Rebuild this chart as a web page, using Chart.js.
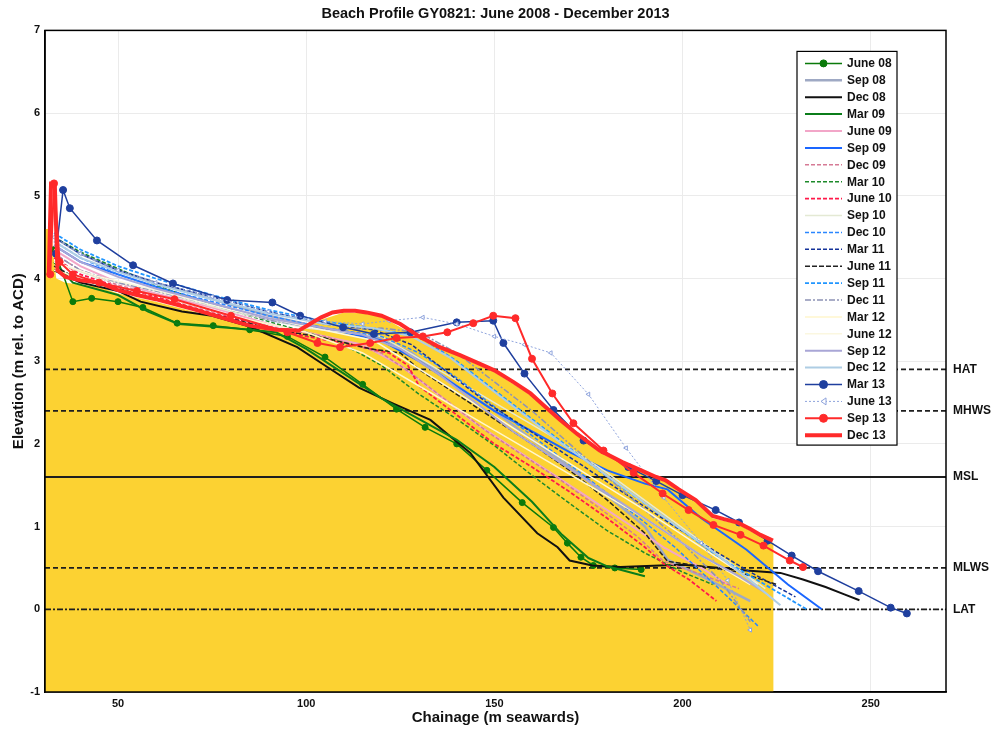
<!DOCTYPE html>
<html>
<head>
<meta charset="utf-8">
<script src="https://cdn.jsdelivr.net/npm/chart.js@4.4.0/dist/chart.umd.min.js"></script>
<style>
  body { margin: 0; background: #fff; }
</style>
</head>
<body>
<canvas id="profile" width="996" height="734"></canvas>
<script>
// ---- data ----
var seriesNames = ["June 08", "Sep 08", "Dec 08", "Mar 09", "June 09", "Sep 09", "Dec 09", "Mar 10",
  "June 10", "Sep 10", "Dec 10", "Mar 11", "June 11", "Sep 11", "Dec 11", "Mar 12", "June 12",
  "Sep 12", "Dec 12", "Mar 13", "June 13", "Sep 13", "Dec 13"];

var jun08X = [33, 38, 43, 50, 56.6, 65.7, 75.3, 85, 95, 105, 115, 124, 131.6, 140, 148, 157.4, 165.7, 169.4, 173, 176.3, 182, 189];
var jun08Y = [4.35, 3.72, 3.76, 3.72, 3.65, 3.46, 3.43, 3.38, 3.3, 3.05, 2.72, 2.42, 2.2, 2.0, 1.68, 1.29, 0.99, 0.8, 0.63, 0.53, 0.5, 0.48];
var sep08X = [33, 40, 50, 60, 75, 90, 105, 118, 128, 140, 150, 160, 170, 180, 190, 196, 205, 218];
var sep08Y = [4.5, 4.3, 4.1, 3.95, 3.75, 3.55, 3.4, 3.3, 3.1, 2.7, 2.4, 2.05, 1.72, 1.38, 1.0, 0.6, 0.4, 0.1];
var dec08X = [33, 40, 50, 56, 67, 75, 85, 97.6, 105.6, 114, 123, 133, 143.6, 152.4, 161.4, 166.8, 170, 176, 183.5, 194, 200, 210, 217, 226, 232, 238, 243, 247];
var dec08Y = [4.1, 3.95, 3.85, 3.72, 3.6, 3.55, 3.42, 3.17, 2.93, 2.68, 2.49, 2.29, 1.89, 1.35, 0.92, 0.75, 0.59, 0.53, 0.51, 0.53, 0.54, 0.5, 0.47, 0.44, 0.36, 0.27, 0.18, 0.11];
var mar09X = [33, 38, 50, 58, 66, 80, 92, 100, 110, 120, 130, 140, 150, 160, 168, 175, 180, 190];
var mar09Y = [4.2, 3.95, 3.8, 3.6, 3.45, 3.4, 3.35, 3.15, 2.85, 2.55, 2.3, 2.05, 1.72, 1.3, 0.9, 0.62, 0.52, 0.4];
var jun09X = [33, 40, 50, 60, 75, 90, 105, 115, 125, 135, 145, 155, 165, 175, 185, 195, 205, 212];
var jun09Y = [4.35, 4.15, 3.95, 3.82, 3.65, 3.45, 3.3, 3.2, 2.95, 2.6, 2.25, 1.95, 1.65, 1.35, 1.05, 0.75, 0.5, 0.3];
var sep09X = [33, 40, 50, 60, 75, 90, 100, 110, 120, 130, 140, 150, 160, 170, 180, 190, 196, 205, 217, 228, 237];
var sep09Y = [4.4, 4.2, 4.05, 3.9, 3.7, 3.5, 3.42, 3.35, 3.25, 3.0, 2.7, 2.4, 2.15, 1.9, 1.68, 1.52, 1.45, 1.1, 0.72, 0.3, 0.0];
var dec09X = [33, 40, 50, 60, 75, 90, 105, 120, 128, 138, 148, 158, 168, 178, 188, 195, 205, 215];
var dec09Y = [4.3, 4.1, 3.92, 3.8, 3.6, 3.42, 3.3, 3.1, 2.85, 2.5, 2.15, 1.85, 1.55, 1.22, 0.88, 0.58, 0.42, 0.25];
var mar10X = [33, 40, 50, 60, 75, 90, 100, 110, 120, 130, 140, 150, 160, 170, 180, 190, 200, 208];
var mar10Y = [4.5, 4.32, 4.12, 3.92, 3.68, 3.48, 3.35, 3.2, 2.95, 2.6, 2.3, 1.98, 1.62, 1.28, 0.95, 0.68, 0.45, 0.3];
var jun10X = [33, 40, 50, 60, 75, 90, 100, 112, 122, 127, 130, 140, 150, 160, 170, 180, 190, 195, 202, 209];
var jun10Y = [4.25, 4.05, 3.9, 3.78, 3.58, 3.42, 3.3, 3.2, 3.1, 2.95, 2.7, 2.35, 2.0, 1.72, 1.42, 1.1, 0.75, 0.55, 0.35, 0.1];
var sep10X = [33, 45, 60, 80, 100, 120, 135, 150, 165, 180, 195, 210, 222];
var sep10Y = [4.2, 4.0, 3.85, 3.6, 3.4, 3.3, 2.9, 2.5, 2.1, 1.65, 1.15, 0.65, 0.25];
var dec10X = [33, 40, 50, 60, 75, 90, 105, 120, 130, 140, 150, 160, 170, 180, 190, 198, 205, 212, 220];
var dec10Y = [4.45, 4.25, 4.05, 3.9, 3.72, 3.55, 3.4, 3.3, 3.1, 2.8, 2.45, 2.1, 1.75, 1.4, 1.05, 0.75, 0.45, 0.15, -0.2];
var mar11X = [33, 40, 50, 60, 75, 90, 105, 118, 128, 138, 148, 158, 168, 178, 188, 198, 208, 218, 230];
var mar11Y = [4.5, 4.3, 4.1, 3.95, 3.78, 3.6, 3.45, 3.38, 3.2, 2.85, 2.5, 2.2, 1.9, 1.6, 1.3, 1.0, 0.72, 0.45, 0.15];
var jun11X = [33, 40, 50, 60, 75, 90, 105, 117, 125, 130, 140, 150, 160, 170, 180, 190, 196, 205, 215, 225];
var jun11Y = [4.15, 3.98, 3.88, 3.75, 3.57, 3.4, 3.28, 3.15, 3.1, 2.9, 2.6, 2.3, 2.0, 1.68, 1.32, 0.92, 0.58, 0.52, 0.45, 0.3];
var sep11X = [33, 40, 50, 60, 75, 90, 105, 120, 130, 140, 150, 160, 170, 180, 190, 200, 210, 220, 233];
var sep11Y = [4.55, 4.35, 4.15, 4.0, 3.8, 3.62, 3.48, 3.38, 3.3, 3.0, 2.65, 2.3, 1.95, 1.6, 1.28, 0.95, 0.62, 0.35, 0.0];
var dec11X = [33, 40, 50, 60, 75, 90, 105, 120, 130, 140, 150, 160, 170, 180, 190, 200, 210, 218];
var dec11Y = [4.3, 4.1, 3.95, 3.85, 3.68, 3.5, 3.38, 3.4, 3.35, 3.1, 2.75, 2.4, 2.0, 1.6, 1.2, 0.8, 0.35, -0.15];
var mar12X = [33, 45, 60, 80, 100, 115, 130, 145, 160, 175, 190, 205, 218];
var mar12Y = [4.1, 3.95, 3.8, 3.55, 3.35, 3.1, 2.7, 2.3, 1.9, 1.5, 1.1, 0.65, 0.3];
var jun12X = [33, 45, 60, 80, 100, 118, 132, 146, 160, 175, 190, 205, 220];
var jun12Y = [4.2, 4.02, 3.86, 3.62, 3.42, 3.25, 2.85, 2.45, 2.05, 1.62, 1.2, 0.75, 0.3];
var sep12X = [33, 40, 50, 60, 75, 90, 105, 115, 125, 135, 145, 155, 165, 175, 185, 195, 205, 215, 222];
var sep12Y = [4.4, 4.2, 4.02, 3.88, 3.7, 3.52, 3.4, 3.32, 3.15, 2.85, 2.5, 2.15, 1.85, 1.55, 1.25, 0.95, 0.65, 0.4, 0.2];
var dec12X = [33, 40, 50, 60, 75, 90, 105, 118, 128, 138, 148, 158, 168, 178, 188, 198, 208, 218, 226];
var dec12Y = [4.45, 4.25, 4.08, 3.93, 3.75, 3.58, 3.45, 3.4, 3.3, 3.05, 2.7, 2.35, 2.0, 1.68, 1.35, 1.02, 0.7, 0.35, 0.05];
var mar13X = [33.5, 35.4, 37.2, 44.4, 54, 64.6, 79, 91, 98.4, 109.8, 118, 127.7, 140, 149.7, 152.4, 158, 165.7, 173.7, 185.6, 193, 200, 208.8, 215, 222.6, 229, 236, 246.8, 255.3, 259.6];
var mar13Y = [4.3, 5.07, 4.85, 4.46, 4.16, 3.94, 3.74, 3.71, 3.55, 3.41, 3.33, 3.35, 3.47, 3.49, 3.22, 2.85, 2.41, 2.04, 1.72, 1.55, 1.38, 1.2, 1.05, 0.83, 0.65, 0.46, 0.22, 0.02, -0.05];
var jun13X = [33, 40, 50, 60, 75, 90, 105, 115, 122, 131, 140, 150, 158, 165, 175, 185, 195, 205, 212, 218];
var jun13Y = [4.5, 4.3, 4.1, 3.95, 3.78, 3.6, 3.48, 3.45, 3.49, 3.53, 3.45, 3.3, 3.2, 3.1, 2.6, 1.95, 1.35, 0.8, 0.35, -0.25];
var sep13X = [32, 33, 34.5, 38, 45, 55, 65, 80, 95, 103, 109, 117, 124, 131, 137.5, 144.4, 149.7, 155.6, 160, 165.4, 171, 179, 187, 194.7, 201.6, 208.2, 215.4, 221.5, 228.5, 232];
var sep13Y = [4.05, 5.15, 4.2, 4.05, 3.95, 3.85, 3.75, 3.55, 3.35, 3.22, 3.17, 3.22, 3.28, 3.3, 3.35, 3.46, 3.55, 3.52, 3.03, 2.61, 2.25, 1.92, 1.65, 1.4, 1.2, 1.02, 0.9, 0.77, 0.59, 0.51];
var dec13X = [31.6, 32.2, 33.2, 33.9, 36, 40, 45, 50, 55, 60, 65, 70, 78, 85, 92, 98, 101, 104, 107, 110, 113, 116, 120, 125, 130, 135, 141, 146, 150, 155, 159.6, 163, 167.5, 172, 178, 184, 189, 193, 195.5, 199, 203.5, 208, 211, 214.6, 218, 220.7, 224];
var dec13Y = [4.05, 5.15, 5.15, 4.1, 4.02, 3.98, 3.95, 3.86, 3.8, 3.75, 3.69, 3.63, 3.52, 3.43, 3.38, 3.37, 3.45, 3.53, 3.59, 3.61, 3.61, 3.59, 3.55, 3.45, 3.3, 3.18, 3.07, 2.97, 2.89, 2.75, 2.61, 2.47, 2.29, 2.12, 1.92, 1.78, 1.68, 1.6, 1.56, 1.45, 1.32, 1.13, 1.09, 1.05, 0.97, 0.9, 0.83];

// yellow beach body
var beachX = [30.6, 32.2, 32.8, 33.6, 36, 45, 50, 60, 70, 85, 98, 104, 110, 116, 120, 130, 141, 150, 159.6, 167.5, 178, 189, 195.5, 203.5, 208, 214.6, 220.7, 224.2];
var beachY = [4.6, 4.6, 4.3, 4.0, 3.95, 3.9, 3.82, 3.72, 3.6, 3.42, 3.35, 3.5, 3.59, 3.58, 3.54, 3.28, 3.05, 2.87, 2.59, 2.27, 1.9, 1.66, 1.54, 1.3, 1.1, 1.03, 0.88, 0.8];

// tide levels
var levelNames = ["HAT", "MHWS", "MSL", "MLWS", "LAT"];
var levelValues = [2.9, 2.4, 1.6, 0.5, 0];

var xMin = 30.6, xMax = 270;
var xTicks = [50, 100, 150, 200, 250];

var seriesX = [jun08X, sep08X, dec08X, mar09X, jun09X, sep09X, dec09X, mar10X, jun10X, sep10X, dec10X, mar11X,
  jun11X, sep11X, dec11X, mar12X, jun12X, sep12X, dec12X, mar13X, jun13X, sep13X, dec13X];
var seriesY = [jun08Y, sep08Y, dec08Y, mar09Y, jun09Y, sep09Y, dec09Y, mar10Y, jun10Y, sep10Y, dec10Y, mar11Y,
  jun11Y, sep11Y, dec11Y, mar12Y, jun12Y, sep12Y, dec12Y, mar13Y, jun13Y, sep13Y, dec13Y];

// ---- styling ----
var seriesStyle = [
  {c: "#0a7a0a", w: 1.5, pt: "circle", r: 3},
  {c: "#9fa9c4", w: 2.5},
  {c: "#111111", w: 2},
  {c: "#0b7d1a", w: 2},
  {c: "#f2a6c8", w: 2},
  {c: "#1a66ff", w: 2},
  {c: "#d67a95", w: 1.5, d: [4, 2]},
  {c: "#1d8a2a", w: 1.5, d: [4, 2]},
  {c: "#ff1a4a", w: 1.8, d: [4, 2]},
  {c: "#e4e9d4", w: 1.5},
  {c: "#2a86ff", w: 1.5, d: [4, 2]},
  {c: "#14329a", w: 1.5, d: [4, 2]},
  {c: "#222222", w: 1.5, d: [5, 2]},
  {c: "#2196ff", w: 1.8, d: [4, 2]},
  {c: "#8d93b5", w: 1.5, d: [6, 2, 2, 2]},
  {c: "#fff6cc", w: 1.5},
  {c: "#fbf7e0", w: 1.5},
  {c: "#a9a6d6", w: 2},
  {c: "#aecde4", w: 2},
  {c: "#1f3f9e", w: 1.5, pt: "circle", r: 3.5},
  {c: "#8ea3dc", w: 1, d: [2, 2], pt: "triangle", r: 2.5, rot: -90, hollow: true},
  {c: "#ff2a2a", w: 2, pt: "circle", r: 3.5},
  {c: "#ff2a2a", w: 4}
];
var levelDash = [[5, 3], [5, 3], [], [5, 3], [6, 2, 2, 2]];

function pairs(xs, ys) {
  return xs.map(function(x, i) { return {x: x, y: ys[i]}; });
}

var datasets = [];
datasets.push({
  label: "beach",
  data: pairs(beachX, beachY),
  borderWidth: 0,
  pointRadius: 0,
  backgroundColor: "#fcd232",
  fill: "start",
  order: 300
});
levelNames.forEach(function(name, i) {
  datasets.push({
    label: name,
    data: pairs([xMin, xMax], [levelValues[i], levelValues[i]]),
    borderColor: "#1e1e1e",
    borderWidth: 1.8,
    borderDash: levelDash[i],
    pointRadius: 0,
    fill: false,
    order: 200
  });
});
seriesNames.forEach(function(name, i) {
  var s = seriesStyle[i];
  datasets.push({
    label: name,
    inLegend: true,
    data: pairs(seriesX[i], seriesY[i]),
    borderColor: s.c,
    borderWidth: s.w,
    borderDash: s.d || [],
    pointStyle: s.pt || "circle",
    pointRadius: s.pt ? s.r : 0,
    pointRotation: s.rot || 0,
    pointBackgroundColor: s.hollow ? "#ffffff" : s.c,
    pointBorderColor: s.c,
    pointBorderWidth: 1,
    fill: false,
    tension: 0,
    order: 100 - i
  });
});

// frame, tide labels and the boxed legend
var extras = {
  id: "extras",
  afterDatasetsDraw: function(chart) {
    var ctx = chart.ctx, a = chart.chartArea, y = chart.scales.y;
    ctx.save();
    ctx.strokeStyle = "#000";
    ctx.lineWidth = 1.5;
    ctx.strokeRect(a.left, a.top, a.right - a.left, a.bottom - a.top);

    ctx.fillStyle = "#111";
    ctx.font = "bold 12px 'Liberation Sans', Arial, sans-serif";
    ctx.textBaseline = "middle";
    ctx.textAlign = "left";
    levelNames.forEach(function(name, i) {
      ctx.fillText(name, a.right + 7, y.getPixelForValue(levelValues[i]));
    });

    var items = chart.data.datasets.filter(function(d) { return d.inLegend; });
    var left = a.right - 149, top = a.top + 21, rowH = 16.9, w = 100;
    var h = rowH * items.length + 5;
    ctx.fillStyle = "#fff";
    ctx.fillRect(left, top, w, h);
    ctx.lineWidth = 1.2;
    ctx.strokeRect(left, top, w, h);
    items.forEach(function(d, i) {
      var yy = top + 12 + i * rowH;
      ctx.strokeStyle = d.borderColor;
      ctx.lineWidth = d.borderWidth;
      ctx.setLineDash(d.borderDash);
      ctx.beginPath();
      ctx.moveTo(left + 8, yy);
      ctx.lineTo(left + 45, yy);
      ctx.stroke();
      ctx.setLineDash([]);
      if (d.pointRadius > 0) {
        ctx.lineWidth = 1;
        ctx.fillStyle = d.pointBackgroundColor;
        ctx.beginPath();
        if (d.pointStyle === "triangle") {
          ctx.moveTo(left + 24, yy);
          ctx.lineTo(left + 29, yy - 3.5);
          ctx.lineTo(left + 29, yy + 3.5);
          ctx.closePath();
        } else {
          ctx.arc(left + 26.5, yy, d.pointRadius + 0.5, 0, Math.PI * 2);
        }
        ctx.fill();
        ctx.stroke();
      }
      ctx.fillStyle = "#111";
      ctx.fillText(d.label, left + 50, yy + 0.5);
    });
    ctx.restore();
  }
};

var fontFamily = "'Liberation Sans', Arial, sans-serif";

new Chart(document.getElementById("profile"), {
  type: "line",
  data: {datasets: datasets},
  options: {
    responsive: false,
    animation: false,
    layout: {padding: {right: 50, left: 0, top: 0, bottom: 0}},
    plugins: {
      legend: {display: false},
      tooltip: {enabled: false},
      title: {
        display: true,
        fullSize: false,
        text: "Beach Profile GY0821: June 2008 - December 2013",
        color: "#111",
        font: {family: fontFamily, weight: "bold", size: 14.5},
        padding: {top: 5, bottom: 8}
      }
    },
    scales: {
      x: {
        type: "linear",
        min: xMin,
        max: xMax,
        afterBuildTicks: function(scale) {
          scale.ticks = xTicks.map(function(v) { return {value: v}; });
        },
        afterFit: function(scale) { scale.height = 42; },
        grid: {color: "#ebebeb", drawTicks: false},
        border: {color: "#000", width: 1.5},
        ticks: {color: "#111", padding: 5, maxRotation: 0, font: {family: fontFamily, weight: "bold", size: 11}},
        title: {
          display: true,
          text: "Chainage (m seawards)",
          color: "#111",
          font: {family: fontFamily, weight: "bold", size: 15},
          padding: {top: 0, bottom: 7}
        }
      },
      y: {
        min: -1,
        max: 7,
        afterFit: function(scale) { scale.width = 45; },
        grid: {color: "#ebebeb", drawTicks: false},
        border: {color: "#000", width: 1.5},
        ticks: {stepSize: 1, color: "#111", padding: 5, font: {family: fontFamily, weight: "bold", size: 11}},
        title: {
          display: true,
          text: "Elevation (m rel. to ACD)",
          color: "#111",
          font: {family: fontFamily, weight: "bold", size: 15},
          padding: {top: 10, bottom: 0}
        }
      }
    }
  },
  plugins: [extras]
});
</script>
</body>
</html>
